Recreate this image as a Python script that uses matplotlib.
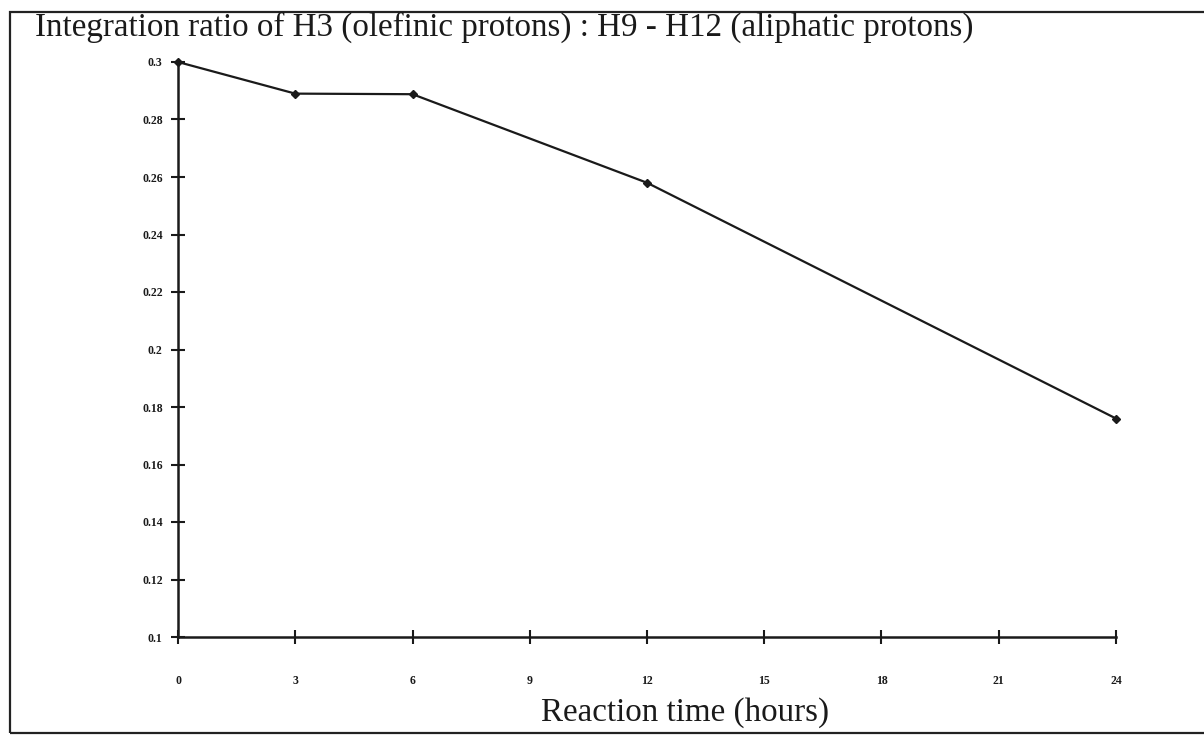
import matplotlib
matplotlib.use("Agg")
import matplotlib.pyplot as plt
from matplotlib.patches import Rectangle

hours = [0, 3, 6, 12, 24]
ratio = [0.300, 0.289, 0.2888, 0.258, 0.176]
x_ticks = [0, 3, 6, 9, 12, 15, 18, 21, 24]
y_ticks = [0.1, 0.12, 0.14, 0.16, 0.18, 0.2, 0.22, 0.24, 0.26, 0.28, 0.3]
y_tick_labels = ["0.1", "0.12", "0.14", "0.16", "0.18", "0.2", "0.22", "0.24", "0.26", "0.28", "0.3"]

W, H = 1204, 739
fig = plt.figure(figsize=(W / 100, H / 100), dpi=100)
fig.patch.set_facecolor("white")

# outer frame
fig.patches.append(Rectangle((10 / W, 6 / H), (W - 8) / W, (733 - 12) / H,
                             transform=fig.transFigure, fill=False,
                             edgecolor="#222222", linewidth=1.6))

ax = fig.add_axes([178 / W, 1 - 637 / H, (1116 - 178) / W, (637 - 62) / H])
ax.plot(hours, ratio, color="#1a1a1a", linewidth=1.6, marker="D",
        markersize=4.5, clip_on=False)
ax.set_xlim(0, 24)
ax.set_ylim(0.1, 0.3)
ax.set_xticks(x_ticks)
ax.set_xticklabels([str(v) for v in x_ticks])
ax.set_yticks(y_ticks)
ax.set_yticklabels(y_tick_labels)
for s in ["top", "right"]:
    ax.spines[s].set_visible(False)
for s in ["left", "bottom"]:
    ax.spines[s].set_linewidth(1.8)
    ax.spines[s].set_color("#1a1a1a")
ax.tick_params(axis="both", direction="inout", length=10, width=1.5,
               color="#1a1a1a")
ax.tick_params(axis="x", pad=22)
ax.tick_params(axis="y", pad=6)
for lab in ax.get_xticklabels() + ax.get_yticklabels():
    lab.set_fontfamily("Liberation Serif")
    lab.set_fontweight("bold")
    lab.set_fontsize(8.5)
    lab.set_color("#1a1a1a")

fig.text(35 / W, 1 - 27 / H,
         "Integration ratio of H3 (olefinic protons) : H9 - H12 (aliphatic protons)",
         fontfamily="Liberation Serif", fontsize=23.8, color="#1a1a1a",
         ha="left", va="center")
ax.set_xlabel("Reaction time (hours)", fontfamily="Liberation Serif",
              fontsize=23.8, color="#1a1a1a")
ax.xaxis.set_label_coords((685 - 178) / (1116 - 178), -(713 - 637) / (637 - 62),
                          transform=ax.transAxes)
ax.xaxis.label.set_va("center")

fig.savefig("out.png", dpi=100, facecolor="white")
